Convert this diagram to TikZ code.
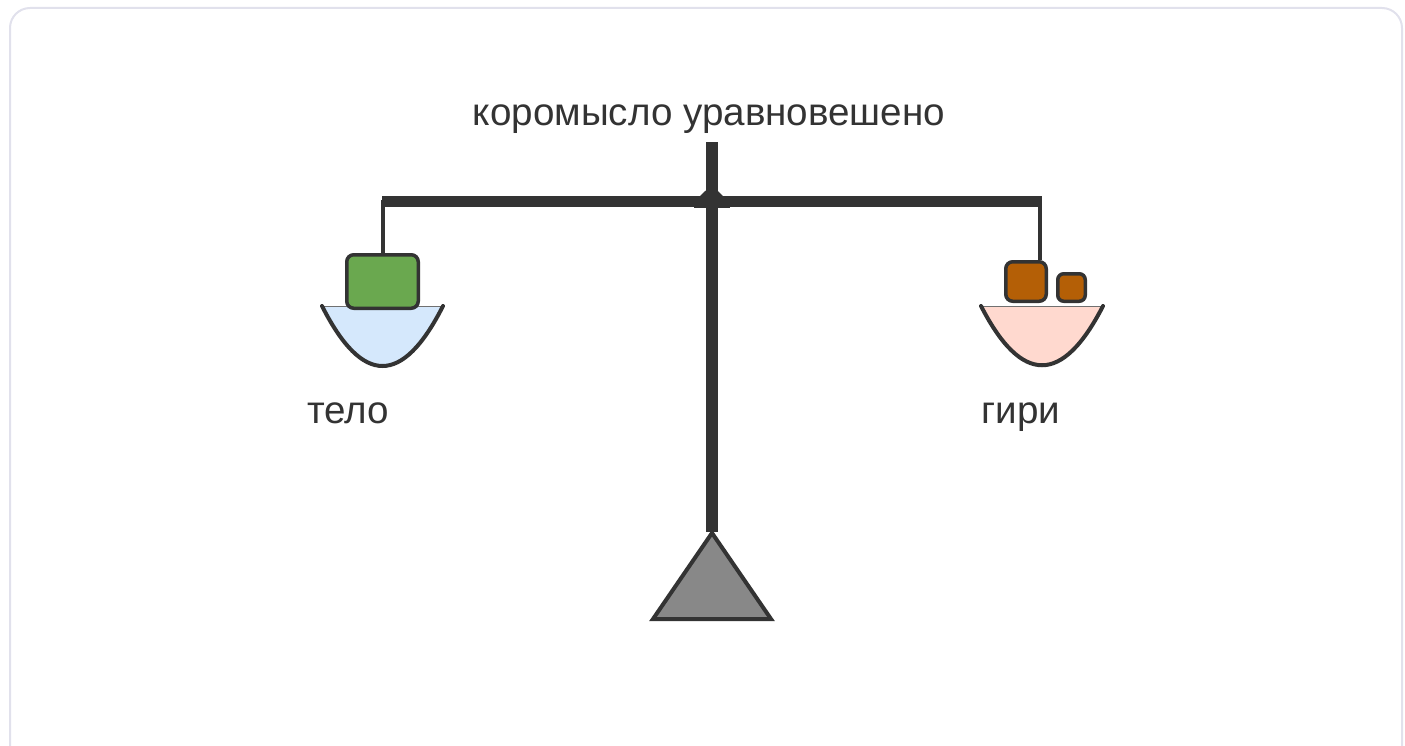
\documentclass[tikz,border=0pt]{standalone}
\usepackage{fontspec}
\setmainfont{Liberation Sans}
\definecolor{ink}{HTML}{333333}
\definecolor{framegray}{HTML}{E1E1EC}
\definecolor{bodygreen}{HTML}{6AA84F}
\definecolor{weightbrown}{HTML}{B45F06}
\definecolor{panblue}{HTML}{D5E8FC}
\definecolor{panpink}{HTML}{FFD9CF}
\definecolor{basegray}{HTML}{888888}
\tikzset{
  frame/.style={draw=framegray, line width=2pt, rounded corners=20pt},
  bar/.style={fill=ink},
  hanger/.style={draw=ink, line width=4pt},
  load/.style={draw=ink, line width=3.5pt, rounded corners=7pt, inner sep=0pt},
  pan/.style={draw=ink, line width=4pt, line cap=round},
  panrim/.style={draw=ink!70, line width=0.8pt},
  label/.style={text=ink, font=\fontsize{38.6}{44}\selectfont, anchor=base, inner sep=0pt}
}
\begin{document}
\begin{tikzpicture}[x=1pt,y=-1pt]
\useasboundingbox (0,0) rectangle (1405,746);
\draw[frame] (10,8) rectangle (1402,780);

% title
\node[label] (title) at (709,126) {коромысло уравновешено};

% post and beam
\fill[bar] (705.5,142) rectangle (717.5,532);
\fill[bar] (382,196) rectangle (1042,207);
\fill[bar] (694,197) rectangle (730,208);
\fill[bar] (699,197) -- (711.5,185) -- (724,197) -- cycle;
\coordinate (lh) at (382.5,200);
\coordinate (rh) at (1040,200);

% left pan
\fill[panblue] (322,306) .. controls (362.5,386) and (402.5,386) .. (443,306) -- cycle;
\draw[panrim] (322,306) -- (443,306);
\draw[pan] (322,306) .. controls (362.5,386) and (402.5,386) .. (443,306);

% right pan
\fill[panpink] (981,306) .. controls (1021.5,385) and (1062.5,385) .. (1103,306) -- cycle;
\draw[panrim] (981,306) -- (1103,306);
\draw[pan] (981,306) .. controls (1021.5,385) and (1062.5,385) .. (1103,306);

% loads
\node[load, fill=bodygreen, minimum width=71.5pt, minimum height=53.5pt] (body) at (382.5,281.5) {};
\node[load, fill=weightbrown, minimum width=40.5pt, minimum height=39.5pt] (bigw) at (1026,281.5) {};
\node[load, fill=weightbrown, minimum width=27.5pt, minimum height=27.5pt, rounded corners=6pt] (smallw) at (1071.5,287.5) {};

% hangers
\draw[hanger] (lh) -- (lh |- body.north);
\draw[hanger] (rh) -- (rh |- bigw.north);

% base
\draw[draw=ink, fill=basegray, line width=4pt, line join=miter] (712,533) -- (771,619) -- (653,619) -- cycle;

% pan labels
\node[label] (tlabel) at (348,423) {тело};
\node[label] (wlabel) at (1021,423) {гири};
\end{tikzpicture}
\end{document}
